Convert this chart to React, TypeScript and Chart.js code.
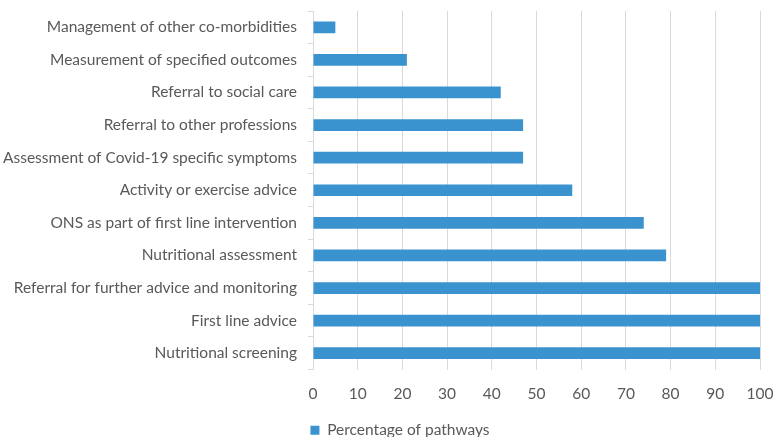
import React, { useEffect, useRef } from "react";
import { Chart, registerables } from "chart.js";

Chart.register(...registerables);

const categories: string[] = [
  "Management of other co-morbidities",
  "Measurement of specified outcomes",
  "Referral to social care",
  "Referral to other professions",
  "Assessment of Covid-19 specific symptoms",
  "Activity or exercise advice",
  "ONS as part of first line intervention",
  "Nutritional assessment",
  "Referral for further advice and monitoring",
  "First line advice",
  "Nutritional screening",
];

const percentageOfPathways: number[] = [5, 21, 42, 47, 47, 58, 74, 79, 100, 100, 100];

const seriesName = "Percentage of pathways";

const FONT = "Lato, 'Open Sans', sans-serif";
const TEXT = "#595959";
const GRID = "#d9d9de";
const BAR = "#3a93ce";

// Nudges the legend box so it sits under the plot area.
const legendShift = {
  id: "legendShift",
  afterLayout(chart: Chart) {
    const lg: any = (chart as any).legend;
    if (lg) {
      lg.left += 20;
      lg.right += 20;
      lg.top += 11;
      lg.bottom += 11;
    }
  },
};

export default function App() {
  const ref = useRef<HTMLCanvasElement | null>(null);

  useEffect(() => {
    if (!ref.current) return;
    const chart = new Chart(ref.current, {
      type: "bar",
      data: {
        labels: categories,
        datasets: [
          {
            label: seriesName,
            data: percentageOfPathways,
            backgroundColor: BAR,
            borderWidth: 0,
            barPercentage: 0.36,
            categoryPercentage: 1,
          },
        ],
      },
      options: {
        indexAxis: "y",
        animation: false,
        responsive: false,
        maintainAspectRatio: false,
        layout: { padding: { top: 11, right: 13, bottom: 0, left: 0 } },
        scales: {
          x: {
            min: 0,
            max: 100,
            ticks: {
              stepSize: 10,
              color: TEXT,
              font: { family: FONT, size: 15.5 },
              padding: 15,
            },
            grid: { color: GRID, lineWidth: 1, drawTicks: false },
            border: { display: false },
            afterFit(scale: any) {
              scale.paddingLeft = 0;
              scale.paddingRight = 0;
              scale.height = 36;
            },
          },
          y: {
            ticks: {
              color: TEXT,
              font: { family: FONT, size: 15.5 },
              padding: 11,
            },
            grid: {
              drawOnChartArea: false,
              drawTicks: true,
              tickLength: 5,
              color: GRID,
              offset: true,
            },
            border: { display: true, color: GRID },
            afterFit(scale: any) {
              scale.paddingTop = 0;
              scale.paddingBottom = 0;
              scale.width = 313;
            },
          },
        },
        plugins: {
          legend: {
            position: "bottom",
            labels: {
              color: TEXT,
              font: { family: FONT, size: 15.5 },
              boxWidth: 9,
              boxHeight: 9,
              padding: 6,
            },
          },
          tooltip: { enabled: false },
        },
      },
      plugins: [legendShift],
    });
    return () => chart.destroy();
  }, []);

  return (
    <div style={{ position: "fixed", left: 0, top: 0, width: 773, height: 437, background: "#fff" }}>
      <canvas ref={ref} width={773} height={437} />
    </div>
  );
}
